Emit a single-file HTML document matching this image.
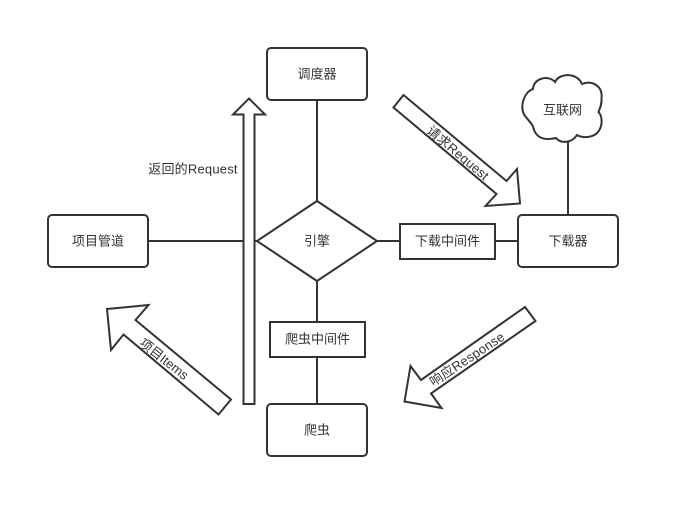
<!DOCTYPE html>
<html>
<head>
<meta charset="utf-8">
<style>
html,body{margin:0;padding:0;background:#fff;}
svg{display:block;}
text{font-family:"Liberation Sans","Noto Sans CJK SC",sans-serif;font-size:13px;fill:#333;text-anchor:middle;dominant-baseline:central;}
.s{fill:#fff;stroke:#333;stroke-width:2;stroke-linejoin:miter;}
.l{fill:none;stroke:#333;stroke-width:2;}
</style>
</head>
<body>
<svg width="680" height="518" viewBox="0 0 680 518" xmlns="http://www.w3.org/2000/svg">
<rect width="680" height="518" fill="#fff"/>
<!-- connectors -->
<path class="l" d="M317 100V201M317 281V322M317 357V404M148 241H257M377 241H400M495 241H518M568 141V215"/>
<!-- boxes -->
<rect class="s" x="267" y="48" width="100" height="52" rx="4"/>
<rect class="s" x="48" y="215" width="100" height="52" rx="4"/>
<rect class="s" x="518" y="215" width="100" height="52" rx="4"/>
<rect class="s" x="267" y="404" width="100" height="52" rx="4"/>
<rect class="s" x="400" y="224" width="95" height="35"/>
<rect class="s" x="270" y="322" width="95" height="35"/>
<polygon class="s" points="317,201 377,241 317,281 257,241"/>
<!-- cloud -->
<path class="s" d="M525 116C519 107 524 92 533 89C533 79 548 74 555 82C559 73 577 72 582 84C592 80 603 86 601.5 98C602 104 600 108 598.5 112C603 117 603 128 596 134C590 138 582 138 577 135C572 143 561 144 556 138C548 140 538 140 534 130C533 125 531 123 525 116Z"/>
<!-- block arrows -->
<polygon class="s" points="249,98.5 265,114.5 254.5,114.5 254.5,404 243.5,404 243.5,114.5 233,114.5"/>
<polygon class="s" points="403.5,95 393.5,107.5 496.5,194 485.5,206 520,203.5 517,169 506.5,181"/>
<polygon class="s" points="107,309 148.5,305 135.5,320 231,399.5 218.5,414.5 123.5,334.5 111,350"/>
<polygon class="s" points="525,307 535.5,321 431,393.5 441.5,408 404.5,401.5 410.5,366 421,380"/>
<!-- labels -->
<text x="317" y="74">调度器</text>
<text x="98" y="241">项目管道</text>
<text x="568" y="241">下载器</text>
<text x="317" y="430">爬虫</text>
<text x="317" y="241">引擎</text>
<text x="447.5" y="241">下载中间件</text>
<text x="317.5" y="339">爬虫中间件</text>
<text x="562.5" y="110">互联网</text>
<text x="193" y="169" letter-spacing="0.2">返回的Request</text>
<text transform="translate(458 153) rotate(40)" x="0" y="0" letter-spacing="0.2">请求Request</text>
<text transform="translate(164 359) rotate(38)" x="0" y="0">项目Items</text>
<text transform="translate(467 359) rotate(-33.5)" x="0" y="0" letter-spacing="0.2">响应Response</text>
</svg>
</body>
</html>
